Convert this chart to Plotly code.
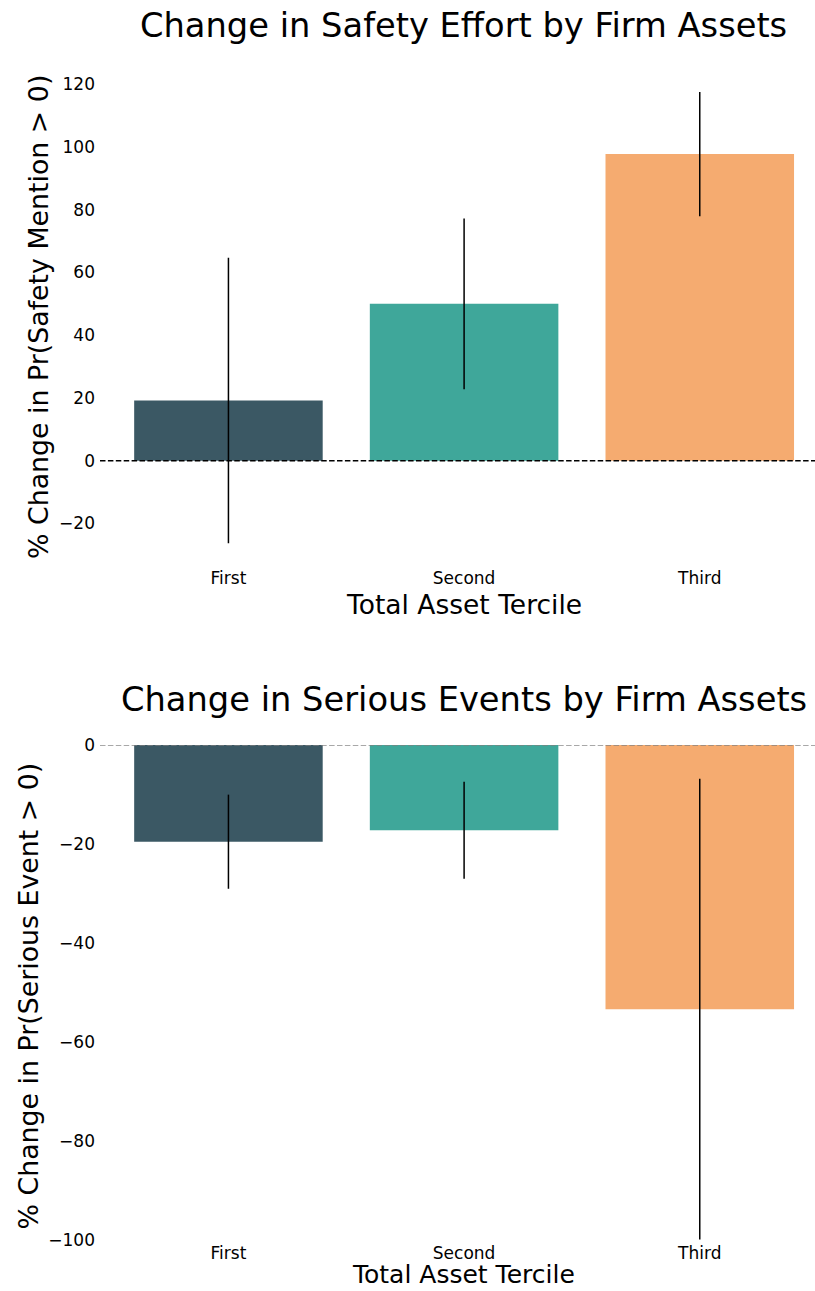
import plotly.graph_objects as go

# ---- data ----
categories = ["First", "Second", "Third"]
safety_values = [19.2, 50.0, 97.7]
safety_errors = [45.5, 27.2, 19.8]
serious_values = [-19.5, -17.2, -53.3]
serious_errors = [9.5, 9.8, 46.5]
bar_colors = ["rgba(38,70,83,0.9)", "rgba(42,157,143,0.9)", "rgba(244,162,97,0.9)"]

top_title = "Change in Safety Effort by Firm Assets"
bottom_title = "Change in Serious Events by Firm Assets"
x_title = "Total Asset Tercile"
top_ytitle = "% Change in Pr(Safety Mention > 0)"
bottom_ytitle = "% Change in Pr(Serious Event > 0)"

W, H = 815, 1291
FONT = "DejaVu Sans"

def py(px):
    return (H - px) / H

fig = go.Figure()

x_idx = list(range(len(categories)))

fig.add_trace(go.Bar(
    x=x_idx, y=safety_values, width=0.8,
    marker=dict(color=bar_colors, line=dict(width=0)),
    error_y=dict(type="data", array=safety_errors, visible=True,
                 color="black", thickness=1.5, width=0),
    xaxis="x", yaxis="y", showlegend=False, hoverinfo="skip",
))
fig.add_trace(go.Bar(
    x=x_idx, y=serious_values, width=0.8,
    marker=dict(color=bar_colors, line=dict(width=0)),
    error_y=dict(type="data", array=serious_errors, visible=True,
                 color="black", thickness=1.5, width=0),
    xaxis="x2", yaxis="y2", showlegend=False, hoverinfo="skip",
))

xdom = [100 / W, 1.0]
xr = [-0.545, 2.489]
tickfont = dict(family=FONT, size=17, color="black")

common_x = dict(domain=xdom, range=xr, tickmode="array", tickvals=x_idx,
                ticktext=categories, showgrid=False, zeroline=False,
                showline=False, ticks="", tickfont=tickfont, automargin=False)
common_y = dict(showgrid=False, zeroline=False, showline=False, ticks="",
                tickfont=tickfont, ticklabelstandoff=4, automargin=False)

fig.update_layout(
    width=W, height=H, autosize=False,
    margin=dict(l=0, r=0, t=0, b=0, pad=0),
    paper_bgcolor="white", plot_bgcolor="white",
    bargap=0.2,
    font=dict(family=FONT, color="black"),
    xaxis=dict(anchor="y", **common_x),
    yaxis=dict(anchor="x", domain=[py(565.9), py(69.3)], range=[-33.5, 124.7],
               tickvals=[-20, 0, 20, 40, 60, 80, 100, 120], **common_y),
    xaxis2=dict(anchor="y2", **common_x),
    yaxis2=dict(anchor="x2", domain=[py(1240.5), py(745.1)], range=[-100, 0],
                tickvals=[-100, -80, -60, -40, -20, 0], **common_y),
)

# zero reference lines
fig.add_shape(type="line", xref="x domain", yref="y", x0=0, x1=1, y0=0, y1=0,
              line=dict(color="black", width=1.5, dash="5.5px,2.4px"), layer="above")
fig.add_shape(type="line", xref="x2 domain", yref="y2", x0=0, x1=1, y0=0, y1=0,
              line=dict(color="rgba(128,128,128,0.9)", width=1.5, dash="5.5px,2.4px"), layer="above")

cx = 463.5 / W
ann = []
ann.append(dict(text=top_title, x=cx, y=py(25), font=dict(size=33.7)))
ann.append(dict(text=bottom_title, x=cx, y=py(700), font=dict(size=33.7)))
ann.append(dict(text=x_title, x=cx, y=py(604), font=dict(size=26.5)))
ann.append(dict(text=x_title, x=cx, y=0.0, yanchor="bottom", font=dict(size=25)))
ann.append(dict(text=top_ytitle, x=39 / W, y=py(317), font=dict(size=26.8), textangle=-90))
ann.append(dict(text=bottom_ytitle, x=28 / W, y=py(996.5), font=dict(size=26.8), textangle=-90))
for a in ann:
    a.setdefault("yanchor", "middle")
    a.update(xref="paper", yref="paper", xanchor="center", showarrow=False)
    a["font"].update(family=FONT, color="black")
    fig.add_annotation(**a)

fig.write_html(
    "out.html",
    config={"displayModeBar": False},
    post_script="document.body.style.margin='0';document.documentElement.style.overflow='hidden';document.body.style.overflow='hidden';",
)
